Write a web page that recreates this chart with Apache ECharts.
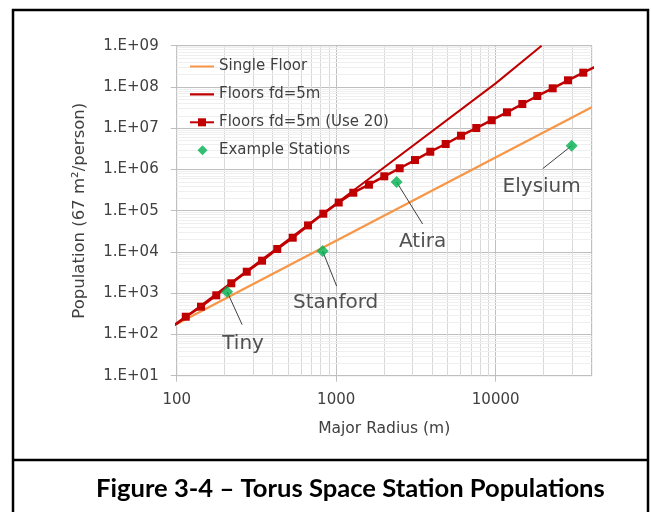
<!DOCTYPE html>
<html>
<head>
<meta charset="utf-8">
<script src="https://cdn.jsdelivr.net/npm/echarts@6/dist/echarts.min.js"></script>
<style>
html,body{margin:0;padding:0;background:#fff;}
#chart{width:651px;height:512px;}
</style>
</head>
<body>
<div id="chart"></div>
<script>
// ---- data ----
const seriesNames = ['Single Floor', 'Floors fd=5m', 'Floors fd=5m (Use 20)', 'Example Stations'];

const singleFloorRadius = [100, 40000];
const singleFloorPop = [180, 3.2e7];

const floorsRadius = [100, 1000, 10000, 19400];
const floorsPop = [180, 1.49e5, 1.22e8, 1.0e9];

const use20Radius = [91, 114, 142, 177, 220, 275, 343, 427, 534, 666, 830, 1037, 1280, 1605, 2002, 2501, 3119, 3890, 4859, 6059, 7556, 9441, 11770, 14690, 18230, 22780, 28400, 35420, 44300];
const use20Pop = [142, 269, 471, 889, 1738, 3320, 6140, 11780, 22150, 44000, 84600, 158000, 273000, 427000, 682000, 1.07e6, 1.69e6, 2.69e6, 4.14e6, 6.58e6, 1.01e7, 1.56e7, 2.43e7, 3.86e7, 6.04e7, 9.27e7, 1.45e8, 2.22e8, 3.4e8];

const stationNames = ['Tiny', 'Stanford', 'Atira', 'Elysium'];
const stationRadius = [207, 822, 2393, 29960];
const stationPop = [1090, 10500, 4.96e5, 3.77e6];

const xTickLabels = ['100', '1000', '10000'];
const yTickLabels = ['1.E+01', '1.E+02', '1.E+03', '1.E+04', '1.E+05', '1.E+06', '1.E+07', '1.E+08', '1.E+09'];

// ---- presentation ----
const FONT = 'DejaVu Sans';
const labelOffsets = { Tiny: [16, 52], Stanford: [13, 52], Atira: [26, 60], Elysium: [-30, 41] };
const leaderEnds = { Tiny: [15, 33], Stanford: [14, 35], Atira: [26, 42], Elysium: [-29, 23] };
// icons: bbox forced to 24x10 by two invisible specks
const lineIcon = 'path://M0,0h0.01v0.01h-0.01z M0,3.9h24v2.2h-24z M23.99,9.99h0.01v0.01h-0.01z';
const diamondIcon = 'path://M0,0h0.01v0.01h-0.01z M12.5,0 L17.5,5 L12.5,10 L7.5,5 Z M23.99,9.99h0.01v0.01h-0.01z';

const pair = (xs, ys) => xs.map((x, i) => [x, ys[i]]);

// minor gridline positions (axis decoration)
const minorX = [];
for (let d = 100; d < 40000; d *= 10) for (let m = 2; m <= 9; m++) if (d * m < 40000) minorX.push(d * m);
const minorY = [];
for (let d = 10; d < 1e9; d *= 10) for (let m = 2; m <= 9; m++) minorY.push(d * m);

const chart = echarts.init(document.getElementById('chart'), null, { renderer: 'canvas' });

const frameGraphics = [
  { type: 'rect', z: 100, shape: { x: 13, y: 10, width: 635, height: 540 }, style: { fill: 'none', stroke: '#000', lineWidth: 2.5 } },
  { type: 'line', z: 100, shape: { x1: 13, y1: 460, x2: 648, y2: 460 }, style: { stroke: '#000', lineWidth: 2.5 } },
  { type: 'text', z: 100, left: 96, top: 476, style: { text: 'Figure 3-4 \u2013 Torus Space Station Populations', font: 'bold 25.6px Lato', fill: '#000' } }
];

const option = {
  animation: false,
  backgroundColor: '#ffffff',
  textStyle: { fontFamily: FONT },
  grid: { left: 176.7, right: 59.3, top: 45.7, bottom: 136.3, show: true, borderColor: '#bfbfbf', borderWidth: 1 },
  legend: {
    orient: 'vertical', left: 189, top: 59, padding: 0, itemWidth: 24, itemHeight: 10, itemGap: 12.9,
    textStyle: { fontFamily: FONT, fontSize: 15, color: '#404040' },
    data: [
      { name: seriesNames[0], icon: lineIcon },
      { name: seriesNames[1], icon: lineIcon },
      { name: seriesNames[2] },
      { name: seriesNames[3], icon: diamondIcon }
    ]
  },
  xAxis: {
    type: 'log', logBase: 10, min: 100, max: 40000,
    name: 'Major Radius (m)', nameLocation: 'middle', nameGap: 45,
    nameTextStyle: { fontFamily: FONT, fontSize: 15.5, color: '#404040' },
    axisLine: { show: true, lineStyle: { color: '#bfbfbf', width: 1 } },
    axisTick: { show: true, length: 6, lineStyle: { color: '#bfbfbf' } },
    axisLabel: {
      fontFamily: FONT, fontSize: 15, color: '#404040', margin: 17, showMaxLabel: false,
      formatter: v => { const s = String(Math.round(v)); return xTickLabels.includes(s) ? s : ''; }
    },
    splitLine: { show: true, lineStyle: { color: '#bfbfbf', width: 1 } },
    minorSplitLine: { show: false }
  },
  yAxis: {
    type: 'log', logBase: 10, min: 10, max: 1e9,
    name: 'Population (67 m\u00B2/person)', nameLocation: 'middle', nameGap: 88, nameRotate: 90,
    nameTextStyle: { fontFamily: FONT, fontSize: 16.5, color: '#404040' },
    axisLine: { show: true, lineStyle: { color: '#bfbfbf', width: 1 } },
    axisTick: { show: true, length: 6, lineStyle: { color: '#bfbfbf' } },
    axisLabel: {
      fontFamily: FONT, fontSize: 15, color: '#404040', margin: 18,
      formatter: v => { const e = Math.log10(v); const r = Math.round(e); return Math.abs(e - r) < 1e-6 ? (yTickLabels[r - 1] || '') : ''; }
    },
    splitLine: { show: true, lineStyle: { color: '#bfbfbf', width: 1 } },
    minorSplitLine: { show: false }
  },
  series: [
    {
      name: 'minor-grid', type: 'line', data: [], z: 1, silent: true,
      markLine: {
        z: 1, silent: true, symbol: ['none', 'none'], label: { show: false }, animation: false,
        data: minorX.map(v => ({ xAxis: v, lineStyle: { color: '#d9d9d9', width: 1, type: 'solid' } }))
          .concat(minorY.map(v => ({ yAxis: v, lineStyle: { color: '#efefef', width: 1, type: 'solid' } })))
      }
    },
    {
      name: seriesNames[0], type: 'line', data: pair(singleFloorRadius, singleFloorPop),
      showSymbol: false, symbol: 'none', z: 3,
      lineStyle: { color: '#F79646', width: 2.25 }, itemStyle: { color: '#F79646' }
    },
    {
      name: seriesNames[1], type: 'line', data: pair(floorsRadius, floorsPop),
      showSymbol: false, symbol: 'none', z: 4,
      lineStyle: { color: '#C00000', width: 2 }, itemStyle: { color: '#C00000' }
    },
    {
      name: seriesNames[2], type: 'line', data: pair(use20Radius, use20Pop),
      symbol: 'rect', symbolSize: 8, showSymbol: true, z: 5, clip: true,
      lineStyle: { color: '#C00000', width: 2.5 }, itemStyle: { color: '#C00000' }
    },
    {
      name: seriesNames[3], type: 'scatter', z: 7,
      data: stationNames.map((n, i) => ({ name: n, value: [stationRadius[i], stationPop[i]] })),
      symbol: 'diamond', symbolSize: 12,
      itemStyle: { color: '#00B050' },
      label: { show: true, position: 'inside', formatter: '{b}', fontFamily: FONT, fontSize: 20, color: '#262626' },
      labelLine: { show: false },
      labelLayout: p => { const o = labelOffsets[stationNames[p.dataIndex]] || [0, 0]; return { dx: o[0], dy: o[1] }; }
    }
  ],
  graphic: frameGraphics
};
chart.setOption(option);

// leader lines from each station marker toward its label
const leaders = stationNames.map((n, i) => {
  const p = chart.convertToPixel({ seriesIndex: 4 }, [stationRadius[i], stationPop[i]]);
  const e = leaderEnds[n];
  return { type: 'line', z: 6, silent: true, shape: { x1: p[0], y1: p[1], x2: p[0] + e[0], y2: p[1] + e[1] }, style: { stroke: '#404040', lineWidth: 1 } };
});
chart.setOption({ graphic: frameGraphics.concat(leaders) });
</script>
</body>
</html>
